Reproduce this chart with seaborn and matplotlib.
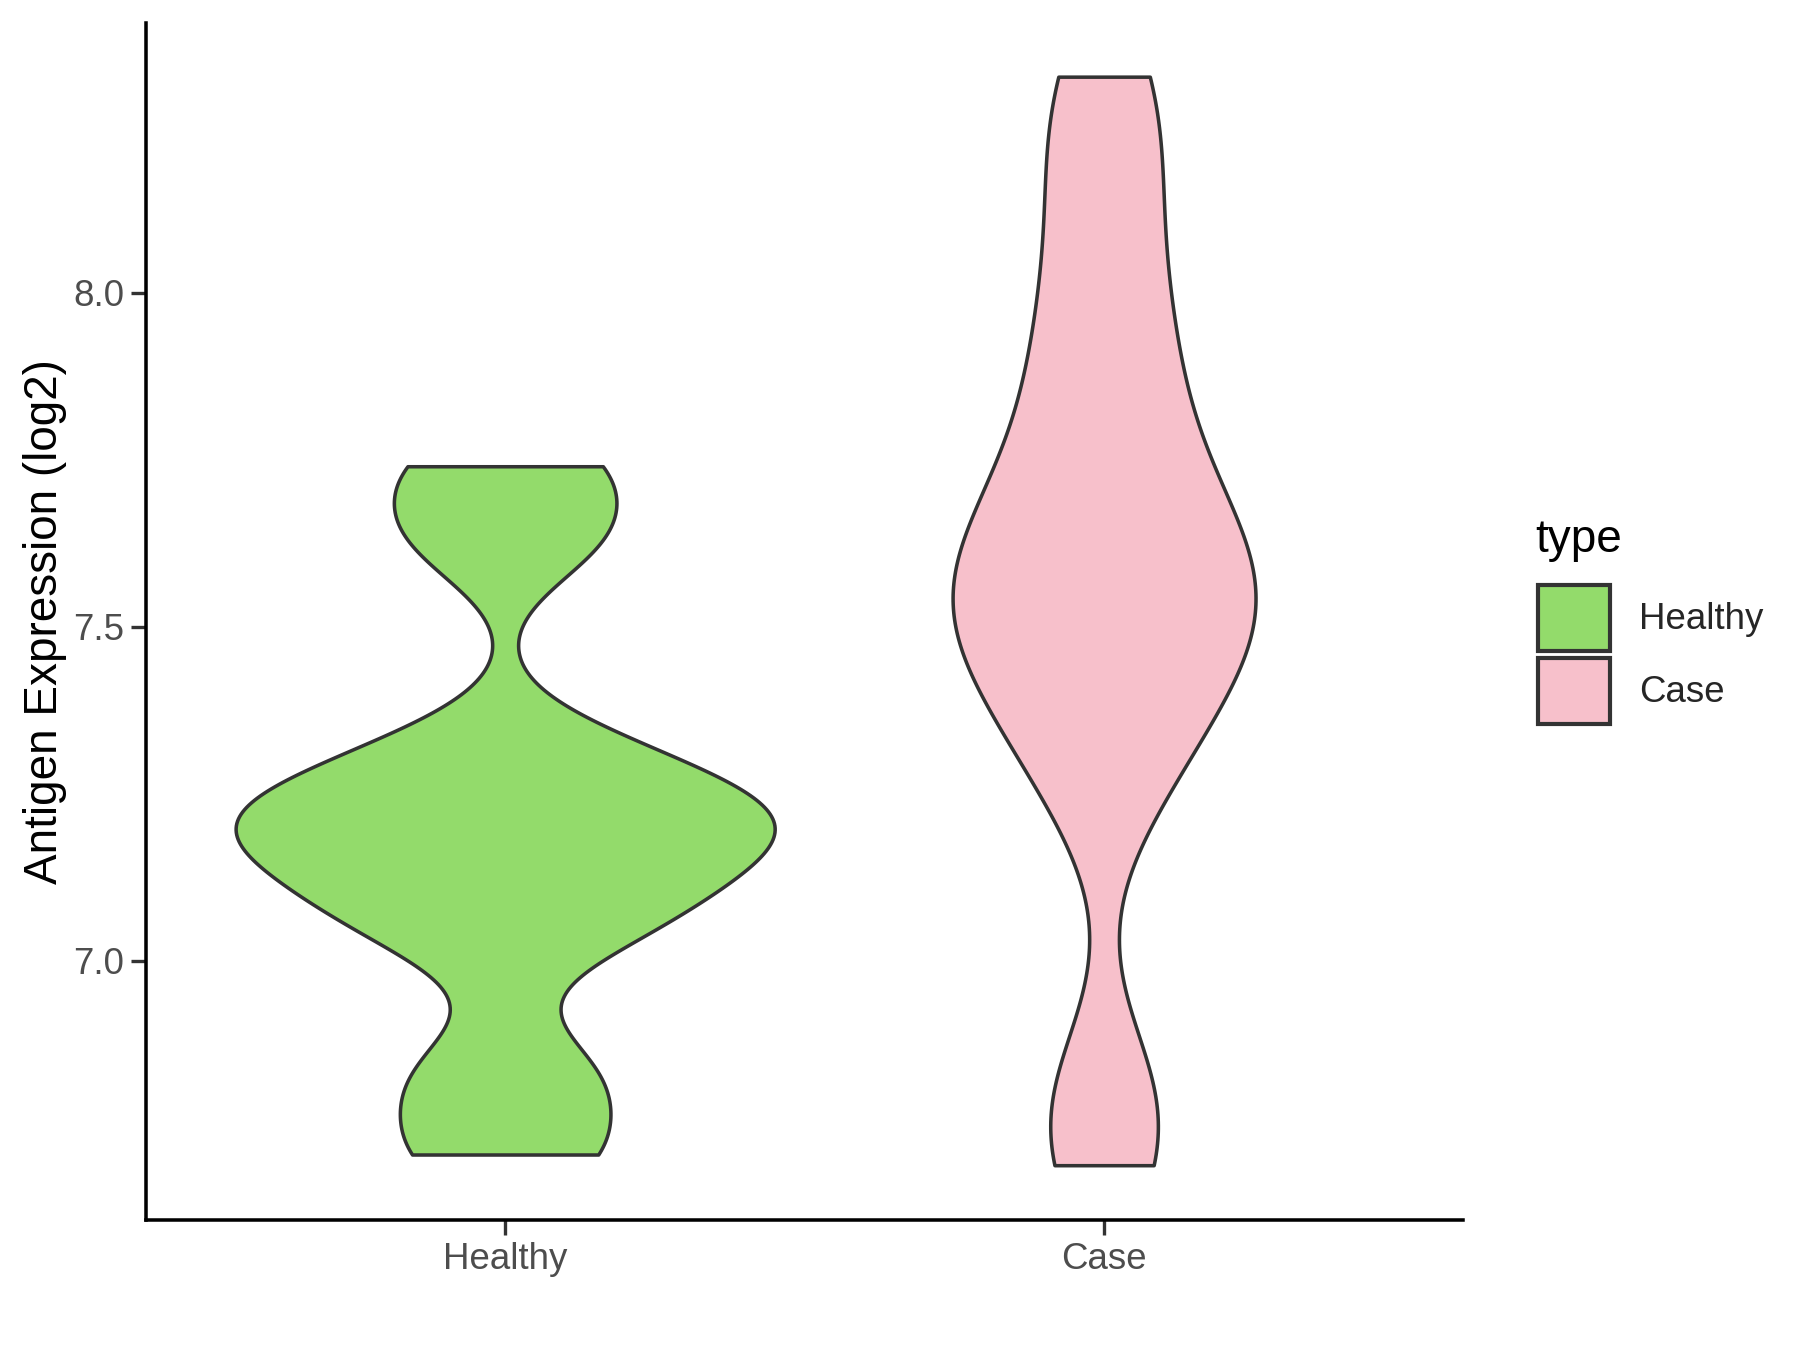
import numpy as np
import pandas as pd
import matplotlib.pyplot as plt
import seaborn as sns
from matplotlib.patches import Patch

# values (log2 expression)
healthy_values = [6.71, 6.83, 7.04, 7.11, 7.17, 7.21, 7.24, 7.31, 7.63, 7.74]
case_values = [6.694, 6.81, 7.26, 7.37, 7.45, 7.50, 7.55, 7.60, 7.66, 7.75,
               7.87, 8.00, 8.17, 8.323]
groups = ["Healthy", "Case"]
colors = {"Healthy": "#93DB6B", "Case": "#F7C0CB"}

df = pd.DataFrame({
    "type": ["Healthy"] * len(healthy_values) + ["Case"] * len(case_values),
    "value": healthy_values + case_values,
})


# R's bw.nrd0 rule, given to scipy as a factor of the sample sd
def nrd0(kde):
    x = kde.dataset.ravel()
    sd = x.std(ddof=1)
    iqr = np.subtract(*np.percentile(x, [75, 25]))
    h = 0.9 * min(sd, iqr / 1.34) * len(x) ** -0.2
    return h / sd


sns.set_style("ticks")
plt.rcParams['font.family'] = ['Liberation Sans', 'DejaVu Sans']

fig = plt.figure(figsize=(12, 9), dpi=150)
ax = fig.add_axes([0.081, 0.0963, 0.732, 0.887])

sns.violinplot(data=df, x="type", y="value", hue="type", order=groups,
               hue_order=groups, palette=colors, saturation=1, inner=None,
               cut=0, bw_method=nrd0, bw_adjust=0.72, density_norm="area",
               common_norm=True, gridsize=300, width=0.9, linewidth=1.7,
               linecolor="#333333", legend=False, ax=ax)

ax.set_xlim(-0.6, 1.6)
ax.set_ylim(6.612, 8.404)
ax.set_yticks([7.0, 7.5, 8.0])
ax.set_yticklabels(["7.0", "7.5", "8.0"])
ax.set_xlabel("")
ax.set_ylabel("Antigen Expression (log2)", fontsize=22, color="black", labelpad=3)
ax.tick_params(axis="both", labelsize=17.6, labelcolor="#4D4D4D",
               width=1.6, length=7, color="#333333")
for side in ["top", "right"]:
    ax.spines[side].set_visible(False)
for side in ["left", "bottom"]:
    ax.spines[side].set_linewidth(1.7)
    ax.spines[side].set_color("black")

fig.text(0.853, 0.60, "type", fontsize=22, color="black", ha="left", va="center")
handles = [Patch(facecolor=colors[g], edgecolor="#333333", linewidth=2.0, label=g)
           for g in groups]
leg = fig.legend(handles=handles, loc="upper left",
                 bbox_to_anchor=(0.8546, 0.567), frameon=False, fontsize=17.6,
                 handlelength=1.95, handleheight=2.4, borderpad=0,
                 borderaxespad=0, handletextpad=0.8, labelspacing=0.2)

plt.savefig("out.png", dpi=150)
